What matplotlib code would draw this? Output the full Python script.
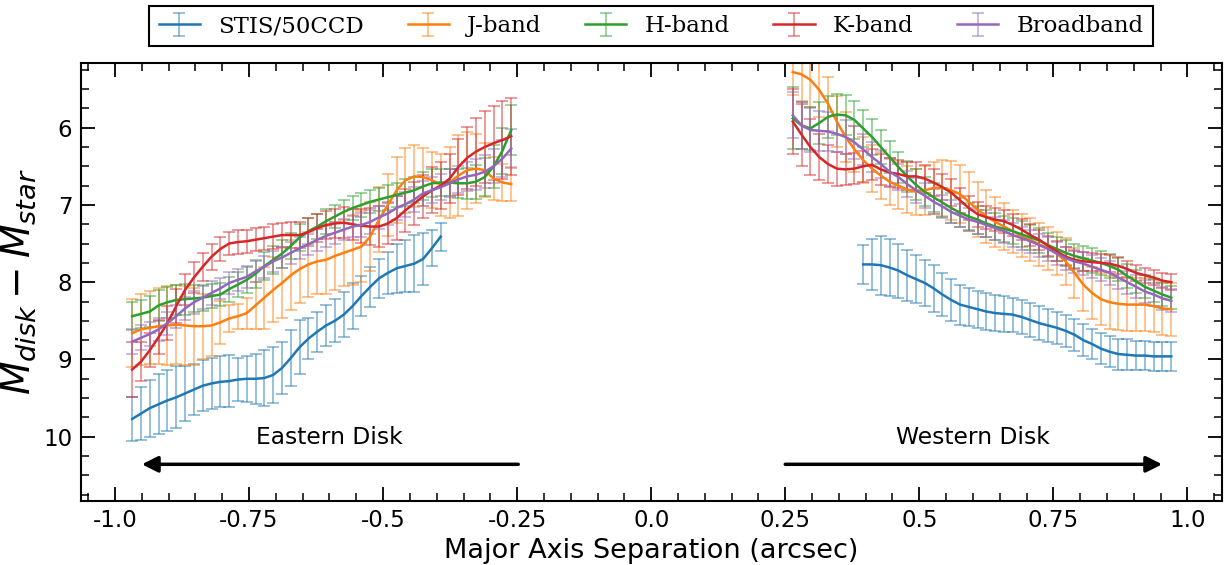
import numpy as np
import matplotlib
matplotlib.use('Agg')
import matplotlib.pyplot as plt
from matplotlib.ticker import MultipleLocator

# separations (arcsec) of the sampled points on each side of the star
sep_east = np.linspace(-0.968, -0.261, 44)
sep_west = np.linspace(0.264, 0.970, 44)

# STIS only covers the outer part of each side
stis_east = [9.77, 9.70, 9.63, 9.58, 9.53, 9.49, 9.44, 9.39, 9.34, 9.31,
             9.29, 9.28, 9.26, 9.25, 9.25, 9.24, 9.20, 9.11, 8.98, 8.84,
             8.73, 8.64, 8.56, 8.50, 8.42, 8.31, 8.18, 8.06, 7.95, 7.88,
             7.82, 7.79, 7.76, 7.70, 7.56, 7.41]
stis_east_err = [0.29, 0.34, 0.37, 0.39, 0.40, 0.40, 0.36, 0.33, 0.33, 0.33,
                 0.33, 0.34, 0.28, 0.30, 0.32, 0.36, 0.36, 0.34, 0.36, 0.35,
                 0.27, 0.26, 0.26, 0.28, 0.29, 0.30, 0.26, 0.26, 0.25, 0.27,
                 0.32, 0.34, 0.37, 0.34, 0.23, 0.18]
j_east = [8.66, 8.61, 8.59, 8.57, 8.56, 8.55, 8.56, 8.57, 8.57, 8.56,
          8.52, 8.47, 8.44, 8.40, 8.30, 8.20, 8.10, 8.01, 7.91, 7.83,
          7.77, 7.73, 7.71, 7.66, 7.62, 7.58, 7.54, 7.41, 7.19, 7.00,
          6.81, 6.68, 6.63, 6.64, 6.68, 6.74, 6.71, 6.62, 6.55, 6.53,
          6.55, 6.66, 6.71, 6.73]
j_east_err = [0.44, 0.46, 0.47, 0.49, 0.51, 0.51, 0.51, 0.50, 0.42, 0.40,
              0.28, 0.17, 0.16, 0.20, 0.30, 0.40, 0.42, 0.45, 0.45, 0.44,
              0.42, 0.42, 0.44, 0.44, 0.43, 0.45, 0.46, 0.45, 0.42, 0.40,
              0.43, 0.42, 0.40, 0.38, 0.36, 0.40, 0.46, 0.52, 0.50, 0.45,
              0.35, 0.28, 0.24, 0.22]
h_east = [8.44, 8.41, 8.38, 8.30, 8.26, 8.23, 8.22, 8.21, 8.20, 8.18,
          8.16, 8.09, 8.03, 7.97, 7.89, 7.79, 7.71, 7.63, 7.53, 7.42,
          7.34, 7.28, 7.21, 7.15, 7.09, 7.04, 7.00, 6.96, 6.93, 6.90,
          6.87, 6.84, 6.81, 6.76, 6.72, 6.71, 6.71, 6.72, 6.72, 6.70,
          6.64, 6.50, 6.30, 6.03]
h_east_err = [0.18, 0.18, 0.20, 0.20, 0.20, 0.20, 0.20, 0.18, 0.17, 0.16,
              0.15, 0.16, 0.16, 0.17, 0.18, 0.18, 0.18, 0.18, 0.17, 0.17,
              0.17, 0.16, 0.16, 0.15, 0.15, 0.15, 0.15, 0.15, 0.15, 0.16,
              0.16, 0.17, 0.17, 0.18, 0.18, 0.18, 0.18, 0.19, 0.20, 0.22,
              0.25, 0.28, 0.30, 0.32]
k_east = [9.13, 9.03, 8.88, 8.71, 8.53, 8.31, 8.10, 7.94, 7.80, 7.67,
          7.57, 7.50, 7.48, 7.47, 7.45, 7.43, 7.41, 7.39, 7.39, 7.39,
          7.35, 7.30, 7.26, 7.24, 7.23, 7.25, 7.27, 7.28, 7.28, 7.24,
          7.17, 7.07, 6.98, 6.89, 6.81, 6.75, 6.66, 6.51, 6.39, 6.31,
          6.25, 6.20, 6.16, 6.11]
k_east_err = [0.35, 0.25, 0.22, 0.22, 0.22, 0.22, 0.20, 0.20, 0.18, 0.17,
              0.16, 0.15, 0.15, 0.15, 0.15, 0.15, 0.16, 0.16, 0.17, 0.17,
              0.18, 0.18, 0.18, 0.19, 0.20, 0.20, 0.22, 0.24, 0.26, 0.27,
              0.28, 0.28, 0.28, 0.28, 0.30, 0.30, 0.32, 0.36, 0.40, 0.44,
              0.46, 0.48, 0.50, 0.50]
bb_east = [8.77, 8.72, 8.67, 8.61, 8.53, 8.44, 8.34, 8.26, 8.20, 8.14,
           8.08, 8.01, 7.97, 7.93, 7.86, 7.80, 7.73, 7.68, 7.62, 7.56,
           7.51, 7.45, 7.40, 7.36, 7.32, 7.28, 7.26, 7.22, 7.16, 7.11,
           7.04, 6.99, 6.93, 6.85, 6.81, 6.77, 6.72, 6.67, 6.63, 6.61,
           6.57, 6.50, 6.40, 6.27]
bb_east_err = [0.16, 0.16, 0.16, 0.15, 0.15, 0.15, 0.15, 0.15, 0.15, 0.15,
               0.14, 0.14, 0.14, 0.14, 0.14, 0.14, 0.14, 0.14, 0.14, 0.14,
               0.14, 0.14, 0.14, 0.14, 0.14, 0.14, 0.15, 0.15, 0.15, 0.15,
               0.15, 0.16, 0.16, 0.16, 0.17, 0.17, 0.18, 0.18, 0.19, 0.20,
               0.21, 0.22, 0.24, 0.25]

stis_west = [7.77, 7.77, 7.78, 7.81, 7.85, 7.91, 7.96, 8.01, 8.08, 8.16,
             8.23, 8.29, 8.32, 8.35, 8.38, 8.40, 8.41, 8.42, 8.45, 8.49,
             8.53, 8.56, 8.59, 8.63, 8.68, 8.75, 8.80, 8.86, 8.90, 8.93,
             8.94, 8.95, 8.95, 8.96, 8.96, 8.96]
stis_west_err = [0.25, 0.33, 0.38, 0.37, 0.35, 0.33, 0.31, 0.30, 0.30, 0.28,
                 0.27, 0.26, 0.25, 0.24, 0.24, 0.23, 0.23, 0.22, 0.22, 0.22,
                 0.22, 0.21, 0.21, 0.21, 0.21, 0.21, 0.20, 0.20, 0.20, 0.20,
                 0.20, 0.19, 0.19, 0.19, 0.19, 0.19]
j_west = [5.28, 5.31, 5.38, 5.51, 5.69, 5.92, 6.12, 6.28, 6.42, 6.53,
          6.62, 6.70, 6.75, 6.80, 6.83, 6.81, 6.78, 6.78, 6.81, 6.86,
          6.96, 7.06, 7.15, 7.22, 7.28, 7.34, 7.40, 7.45, 7.51, 7.56,
          7.63, 7.73, 7.88, 8.03, 8.14, 8.22, 8.26, 8.28, 8.29, 8.29,
          8.29, 8.31, 8.34, 8.35]
j_west_err = [0.30, 0.35, 0.35, 0.35, 0.35, 0.33, 0.32, 0.30, 0.30, 0.30,
              0.30, 0.30, 0.30, 0.30, 0.30, 0.32, 0.34, 0.36, 0.38, 0.38,
              0.38, 0.36, 0.34, 0.32, 0.30, 0.28, 0.28, 0.28, 0.28, 0.28,
              0.28, 0.30, 0.32, 0.34, 0.34, 0.34, 0.34, 0.34, 0.34, 0.34,
              0.34, 0.34, 0.34, 0.34]
h_west = [5.88, 5.97, 6.01, 5.94, 5.86, 5.83, 5.84, 5.90, 6.01, 6.12,
          6.25, 6.38, 6.51, 6.63, 6.74, 6.83, 6.90, 6.97, 7.04, 7.10,
          7.15, 7.19, 7.24, 7.28, 7.31, 7.34, 7.38, 7.42, 7.46, 7.52,
          7.57, 7.62, 7.66, 7.69, 7.72, 7.75, 7.79, 7.84, 7.92, 7.99,
          8.06, 8.11, 8.16, 8.20]
h_west_err = [0.40, 0.30, 0.28, 0.27, 0.27, 0.27, 0.26, 0.25, 0.24, 0.23,
              0.22, 0.21, 0.20, 0.20, 0.20, 0.19, 0.19, 0.19, 0.19, 0.19,
              0.18, 0.18, 0.18, 0.17, 0.17, 0.17, 0.17, 0.16, 0.16, 0.16,
              0.16, 0.16, 0.16, 0.16, 0.16, 0.16, 0.15, 0.15, 0.15, 0.15,
              0.15, 0.15, 0.15, 0.15]
k_west = [5.92, 6.09, 6.25, 6.38, 6.47, 6.53, 6.54, 6.53, 6.50, 6.48,
          6.54, 6.58, 6.60, 6.63, 6.63, 6.66, 6.71, 6.77, 6.84, 6.94,
          7.04, 7.12, 7.16, 7.19, 7.21, 7.26, 7.32, 7.39, 7.45, 7.53,
          7.60, 7.67, 7.71, 7.73, 7.74, 7.75, 7.76, 7.79, 7.83, 7.88,
          7.91, 7.94, 7.98, 8.00]
k_west_err = [0.42, 0.40, 0.36, 0.30, 0.25, 0.22, 0.20, 0.20, 0.20, 0.20,
              0.20, 0.19, 0.18, 0.18, 0.18, 0.18, 0.17, 0.17, 0.17, 0.16,
              0.16, 0.16, 0.15, 0.15, 0.15, 0.14, 0.14, 0.14, 0.13, 0.13,
              0.13, 0.12, 0.12, 0.12, 0.12, 0.11, 0.11, 0.11, 0.10, 0.10,
              0.10, 0.10, 0.10, 0.10]
bb_west = [5.84, 5.97, 6.03, 6.04, 6.05, 6.08, 6.12, 6.19, 6.28, 6.38,
           6.47, 6.57, 6.64, 6.73, 6.81, 6.88, 6.96, 7.02, 7.09, 7.14,
           7.19, 7.22, 7.26, 7.30, 7.34, 7.39, 7.43, 7.47, 7.52, 7.57,
           7.63, 7.69, 7.73, 7.76, 7.80, 7.84, 7.88, 7.94, 8.00, 8.06,
           8.12, 8.16, 8.21, 8.24]
bb_west_err = [0.30, 0.30, 0.28, 0.26, 0.25, 0.24, 0.22, 0.21, 0.20, 0.19,
               0.18, 0.18, 0.17, 0.17, 0.16, 0.16, 0.16, 0.15, 0.15, 0.15,
               0.15, 0.15, 0.15, 0.15, 0.15, 0.15, 0.15, 0.15, 0.15, 0.15,
               0.15, 0.15, 0.15, 0.15, 0.15, 0.15, 0.15, 0.15, 0.15, 0.15,
               0.15, 0.15, 0.15, 0.15]

labels = ['STIS/50CCD', 'J-band', 'H-band', 'K-band', 'Broadband']
colors = ['C0', 'C1', 'C2', 'C3', 'C4']
xtick_vals = [-1.0, -0.75, -0.5, -0.25, 0.0, 0.25, 0.5, 0.75, 1.0]
xtick_text = ['-1.0', '-0.75', '-0.5', '-0.25', '0.0', '0.25', '0.5', '0.75', '1.0']

n_stis = len(stis_east)
east = [(sep_east[:n_stis], stis_east, stis_east_err),
        (sep_east, j_east, j_east_err),
        (sep_east, h_east, h_east_err),
        (sep_east, k_east, k_east_err),
        (sep_east, bb_east, bb_east_err)]
west = [(sep_west[-len(stis_west):], stis_west, stis_west_err),
        (sep_west, j_west, j_west_err),
        (sep_west, h_west, h_west_err),
        (sep_west, k_west, k_west_err),
        (sep_west, bb_west, bb_west_err)]

fig = plt.figure(figsize=(12.25, 5.65), dpi=100)
ax = fig.add_axes([80.7 / 1225, 1 - 500.7 / 565, 1141 / 1225, 437.4 / 565])


def draw(x, y, err, color, label=None):
    eb = ax.errorbar(x, y, yerr=err, color=color, lw=1.8, elinewidth=1.3,
                     capsize=4, capthick=1.3, label=label)
    for c in eb[1]:
        c.set_alpha(0.5)
    for b in eb[2]:
        b.set_alpha(0.5)
    return eb


handles = []
for i in range(5):
    handles.append(draw(*east[i], colors[i], labels[i]))
    draw(*west[i], colors[i])

# direction arrows and labels
ax.annotate('', xy=(-0.95, 10.357), xytext=(-0.248, 10.357),
            arrowprops=dict(arrowstyle='-|>', color='k', lw=2.5,
                            mutation_scale=24, shrinkA=0, shrinkB=0))
ax.annotate('', xy=(0.953, 10.357), xytext=(0.25, 10.357),
            arrowprops=dict(arrowstyle='-|>', color='k', lw=2.5,
                            mutation_scale=24, shrinkA=0, shrinkB=0))
ax.text(-0.6, 10.1, 'Eastern Disk', ha='center', va='baseline', fontsize=16.8)
ax.text(0.6, 10.1, 'Western Disk', ha='center', va='baseline', fontsize=16.8)

ax.set_xlim(-1.064, 1.064)
ax.set_ylim(10.828, 5.167)
ax.set_xticks(xtick_vals)
ax.set_xticklabels(xtick_text)
ax.xaxis.set_minor_locator(MultipleLocator(0.05))
ax.yaxis.set_minor_locator(MultipleLocator(0.25))
ax.tick_params(which='both', direction='in', top=True, right=True,
               labelsize=16.5, pad=6)
ax.tick_params(which='major', length=10, width=1.3)
ax.tick_params(which='minor', length=6, width=1.1)
for s in ax.spines.values():
    s.set_linewidth(1.5)

ax.set_xlabel('Major Axis Separation (arcsec)', fontsize=19.5)
ax.set_ylabel(r'$M_{disk} - M_{star}$', fontsize=28, labelpad=4)

leg = ax.legend(handles=handles, loc='lower center', bbox_to_anchor=(0.5, 1.039),
                borderaxespad=0, ncol=5, fancybox=False, edgecolor='k',
                framealpha=1, handlelength=1.8, columnspacing=1.9,
                prop={'family': 'DejaVu Serif', 'size': 16.5})
leg.get_frame().set_linewidth(1.5)

fig.savefig('out.png', dpi=100)
